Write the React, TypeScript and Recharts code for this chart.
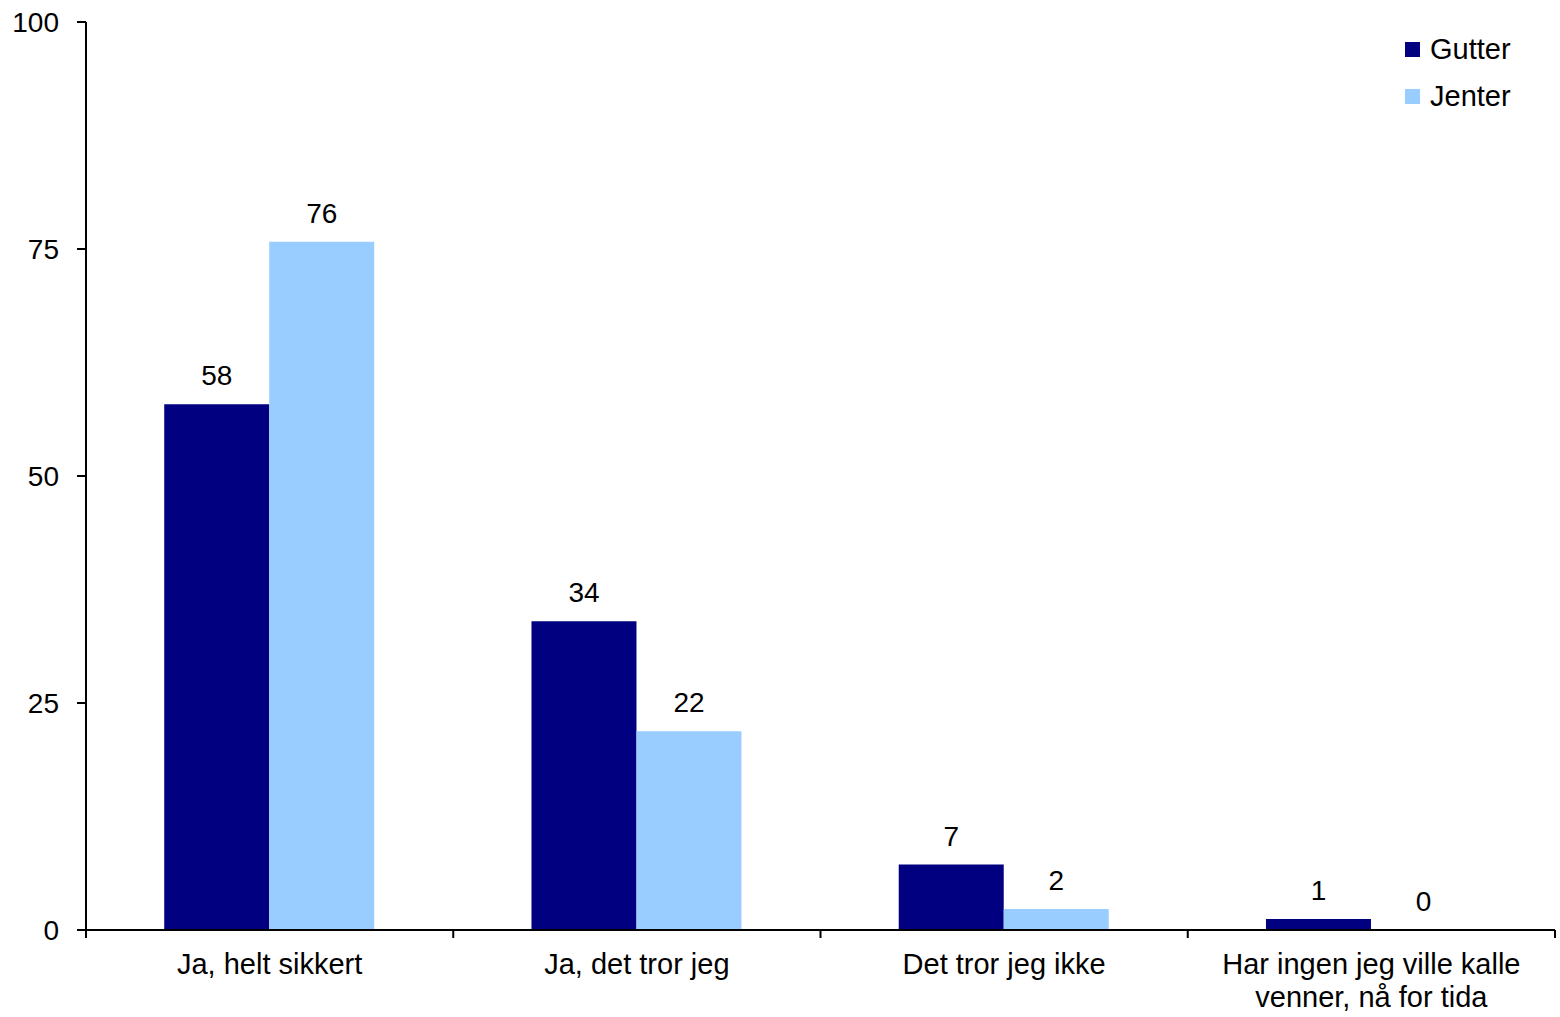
import { BarChart, Bar, XAxis, YAxis, Legend, LabelList } from "recharts";

const categories = [
  "Ja, helt sikkert",
  "Ja, det tror jeg",
  "Det tror jeg ikke",
  "Har ingen jeg ville kalle venner, nå for tida",
];
const gutter = [57.9, 34.0, 7.2, 1.2];
const jenter = [75.8, 21.9, 2.3, 0];
const yTicks = [0, 25, 50, 75, 100];

const data = categories.map((name, i) => ({ name, Gutter: gutter[i], Jenter: jenter[i] }));

const FONT = "'Liberation Sans', Arial, sans-serif";

function wrap(label: string, max = 26): string[] {
  const lines: string[] = [];
  let cur = "";
  for (const w of label.split(" ")) {
    const next = cur ? cur + " " + w : w;
    if (next.length > max && cur) {
      lines.push(cur);
      cur = w;
    } else cur = next;
  }
  if (cur) lines.push(cur);
  return lines;
}

// category label + tick marks on the band edges (like Excel)
const CategoryTick = (props: any) => {
  const { x, y, payload, width, visibleTicksCount, index } = props;
  const lines = wrap(String(payload.value));
  const half = width && visibleTicksCount ? width / visibleTicksCount / 2 : 0;
  const isLast = index === visibleTicksCount - 1;
  return (
    <g>
      {half > 0 && <line x1={x - half} x2={x - half} y1={y} y2={y + 8} stroke="#000" strokeWidth={2} />}
      {half > 0 && isLast && (
        <line x1={x + half} x2={x + half} y1={y} y2={y + 8} stroke="#000" strokeWidth={2} />
      )}
      <text x={x} y={y} textAnchor="middle" fontSize={29} fill="#000" fontFamily={FONT}>
        {lines.map((l, i) => (
          <tspan key={i} x={x} dy={i === 0 ? 44 : 33}>
            {l}
          </tspan>
        ))}
      </text>
    </g>
  );
};

const renderLegend = (props: any) => {
  const items = props.payload || [];
  return (
    <div style={{ fontFamily: FONT, fontSize: 29, color: "#000" }}>
      {items.map((it: any) => (
        <div key={it.value} style={{ display: "flex", alignItems: "center", height: 47 }}>
          <span style={{ width: 15, height: 15, background: it.color, marginRight: 10, display: "inline-block" }} />
          <span>{it.value}</span>
        </div>
      ))}
    </div>
  );
};

const fmt = (v: any) => String(Math.round(Number(v)));
// zero-height bars get dropped along with their label, keep a hairline so "0" still shows
const keepZero = (v: any) => (Number(v) === 0 ? 0.01 : 0);

export default function App() {
  return (
    <div style={{ position: "absolute", left: 0, top: 0, background: "#fff" }}>
      <BarChart
        width={1560}
        height={1017}
        data={data}
        margin={{ top: 22, right: 5, left: 0, bottom: 0 }}
        barCategoryGap="21.3%"
        barGap={0}
      >
        <XAxis
          dataKey="name"
          height={87}
          interval={0}
          tickSize={0}
          tickMargin={0}
          tickLine={false}
          axisLine={{ stroke: "#000", strokeWidth: 2 }}
          tick={CategoryTick}
        />
        <YAxis
          width={86}
          domain={[0, 100]}
          ticks={yTicks}
          tickSize={9}
          tickMargin={18}
          axisLine={{ stroke: "#000", strokeWidth: 2 }}
          tickLine={{ stroke: "#000", strokeWidth: 2 }}
          tick={{ fill: "#000", fontSize: 28, fontFamily: FONT }}
        />
        <Legend
          layout="vertical"
          align="center"
          verticalAlign="middle"
          width={200}
          wrapperStyle={{ top: 26, left: 1405 }}
          content={renderLegend}
        />
        <Bar dataKey="Gutter" fill="#000080" isAnimationActive={false}>
          <LabelList
            dataKey="Gutter"
            position="top"
            offset={19}
            formatter={fmt}
            fill="#000"
            fontSize={28}
            fontFamily={FONT}
          />
        </Bar>
        <Bar dataKey="Jenter" fill="#99CCFF" minPointSize={keepZero} isAnimationActive={false}>
          <LabelList
            dataKey="Jenter"
            position="top"
            offset={19}
            formatter={fmt}
            fill="#000"
            fontSize={28}
            fontFamily={FONT}
          />
        </Bar>
      </BarChart>
    </div>
  );
}
